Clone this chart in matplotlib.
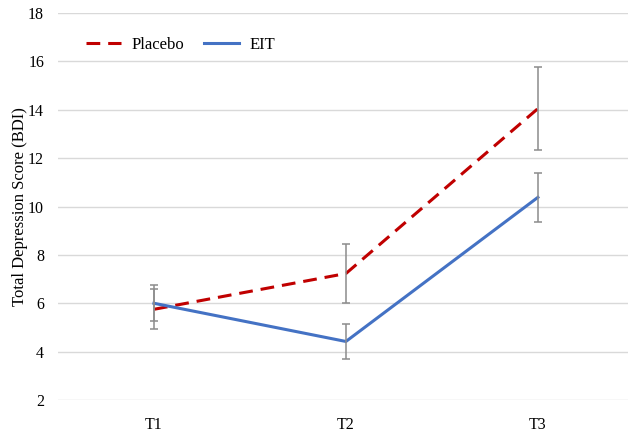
import numpy as np
import matplotlib.pyplot as plt

# group means and error bar half-widths at each time point
times = ["T1", "T2", "T3"]
placebo = [5.75, 7.23, 14.05]
placebo_err = [0.83, 1.22, 1.72]
eit = [6.0, 4.42, 10.38]
eit_err = [0.74, 0.72, 1.02]

plt.rcParams['font.family'] = ['Liberation Serif', 'DejaVu Serif']

fig = plt.figure(figsize=(6.3, 4.37), dpi=100)
ax = fig.add_axes([0.092, 0.0847, 0.905, 0.8853])

x = np.arange(len(times))
ax.plot(x, placebo, color='#c00000', lw=2.2, dashes=(4.5, 2.6), label='Placebo', zorder=3)
ax.plot(x, eit, color='#4472c4', lw=2.2, label='EIT', zorder=3)
ax.errorbar(x, placebo, yerr=placebo_err, fmt='none', ecolor='#8c8c8c',
            elinewidth=1.1, capsize=3, capthick=1.1, zorder=4)
ax.errorbar(x, eit, yerr=eit_err, fmt='none', ecolor='#8c8c8c',
            elinewidth=1.1, capsize=3, capthick=1.1, zorder=4)

ax.set_xlim(-0.5, 2.47)
ax.set_ylim(2, 18)
ax.set_yticks(np.arange(2, 19, 2))
ax.set_xticks(x)
ax.set_xticklabels(times)
ax.tick_params(length=0, labelsize=11.5, colors='black')
ax.tick_params(axis='x', pad=12)
ax.tick_params(axis='y', pad=10)
ax.yaxis.grid(True, color='#d9d9d9', lw=1)
ax.set_axisbelow(True)
for s in ax.spines.values():
    s.set_visible(False)
ax.set_ylabel('Total Depression Score (BDI)', fontsize=12, labelpad=0)

ax.legend(loc='upper left', bbox_to_anchor=(0.022, 0.977), ncol=2, frameon=False,
          fontsize=12, handlelength=2.1, columnspacing=1.2, handletextpad=0.65)

fig.savefig('out.png', dpi=100)
